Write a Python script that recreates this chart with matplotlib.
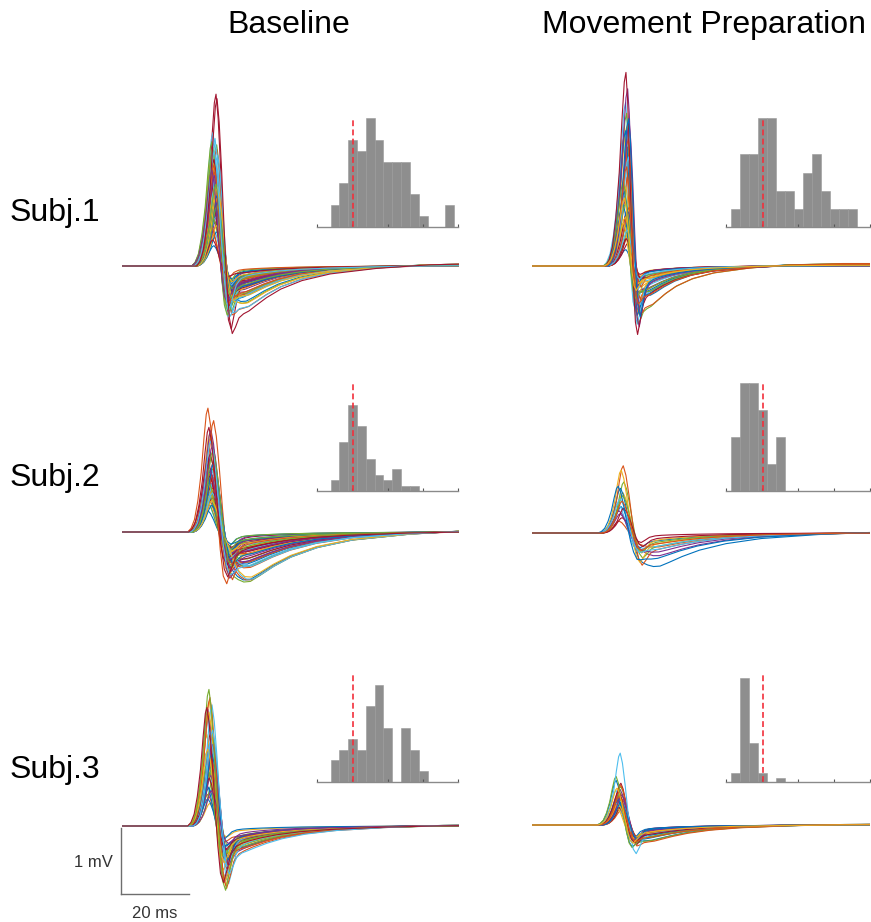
import numpy as np
import matplotlib.pyplot as plt

plt.rcParams['font.family'] = ['Liberation Sans', 'DejaVu Sans']

# peak-to-peak MEP amplitudes (mV), one value per trial
base_s1 = [1.45, 0.70, 2.20, 1.05, 1.65, 2.50, 3.80, 1.23, 0.94, 1.90, 1.50, 2.68, 0.81, 1.72, 2.32, 1.15,
           1.00, 2.04, 1.58, 2.95, 1.30, 0.45, 1.84, 2.40, 1.12, 1.40, 2.15, 0.97, 1.53, 2.58, 1.68, 1.19,
           2.75, 1.09, 1.95, 0.76, 1.60, 2.28, 1.37, 1.03, 2.45, 1.78, 1.26, 2.08, 0.90, 1.48, 2.62, 1.87,
           2.36, 1.42, 0.86, 1.63, 2.00, 1.33, 2.82, 0.58, 1.55, 2.24, 1.75, 2.12, 1.81, 2.54, 3.70]
prep_s1 = [0.95, 2.42, 0.55, 1.20, 0.72, 2.26, 1.04, 0.30, 1.70, 2.55, 1.29, 0.85, 3.00, 0.62, 1.12, 2.18,
           1.45, 0.99, 2.80, 1.33, 0.42, 2.48, 1.08, 0.79, 3.25, 1.16, 2.00, 0.50, 1.37, 2.33, 0.90, 2.61,
           1.56, 0.66, 3.55, 2.70, 1.82, 1.25]
base_s2 = [1.00, 0.74, 1.20, 0.93, 1.45, 0.65, 1.09, 1.30, 0.97, 2.16, 1.16, 0.82, 1.02, 1.58, 0.48, 1.24,
           1.06, 0.89, 1.68, 1.13, 0.77, 1.35, 2.50, 0.99, 1.18, 0.91, 1.50, 1.04, 0.85, 1.28, 2.22, 1.10,
           0.68, 1.38, 1.75, 0.95, 1.22, 1.07, 1.95, 0.80, 1.14, 1.62, 0.60, 1.32, 0.96, 2.29, 1.12, 0.88,
           1.26, 1.54, 2.78, 0.71, 1.40, 1.83, 2.05, 2.35]
prep_s2 = [0.62, 0.28, 0.95, 0.45, 1.20, 0.70, 0.36, 1.05, 1.58, 1.48, 0.52, 0.88, 0.80, 0.58, 1.10, 0.75]
base_s3 = [1.52, 0.70, 1.74, 2.46, 0.99, 1.65, 2.08, 1.40, 1.83, 0.50, 2.58, 1.26, 1.68, 1.96, 0.92, 1.56,
           2.76, 1.77, 1.18, 2.40, 1.48, 0.85, 1.86, 2.02, 1.12, 1.62, 2.68, 1.71, 0.60, 1.44, 2.52, 1.80,
           1.34, 1.90, 1.06, 1.59, 2.84, 1.70, 0.78, 3.02, 2.12, 2.62]
prep_s3 = [0.52, 0.44, 0.65, 0.58, 0.39, 0.71, 0.48, 0.55, 0.30, 0.61, 0.46, 0.79, 0.53, 0.42, 0.92, 0.57,
           0.67, 0.50, 0.63, 0.45, 0.86, 0.51, 0.54, 0.40, 0.73, 0.60, 0.49, 0.36, 0.56, 0.82, 0.43, 0.62,
           1.00, 1.48, 0.69, 0.47, 0.59, 0.76]

# MEP waveform: time from peak (ms), spike lobe, trough lobe, slow tail
t_rel   = [-40, -6.0, -5.0, -4.0, -3.0, -2.0, -1.2, -0.5, 0.0, 0.6, 1.3, 2.0, 2.8, 3.5,
           4.3, 5.2, 6.2, 7.5, 9.0, 11.0, 14.0, 18.0, 24.0, 32.0, 45.0, 60.0, 80.0, 100.0]
spike   = [0, 0, 0.03, 0.10, 0.25, 0.48, 0.75, 0.95, 1.0, 0.86, 0.58, 0.28, 0.07, 0,
           0, 0, 0, 0, 0, 0, 0, 0, 0, 0, 0, 0, 0, 0]
trough  = [0, 0, 0, 0, 0, 0, 0, 0, 0, 0, -0.03, -0.15, -0.5, -0.85,
           -1.0, -0.75, -0.45, -0.30, -0.24, -0.20, -0.16, -0.12, -0.08, -0.05, -0.02, 0, 0.01, 0.01]
tail    = [0, 0, 0, 0, 0, 0, 0, 0, 0, 0, 0, 0, 0, 0,
           -0.2, -0.5, -0.8, -0.97, -1.0, -0.9, -0.72, -0.52, -0.32, -0.16, -0.04, 0.04, 0.07, 0.07]

# trial-to-trial latency jitter (ms) and tail depth (mV)
latency_jitter = [0.0, -0.6, 0.5, -0.3, 0.8, -0.9, 0.3, -0.2, 0.6]
tail_depth     = [0.05, 0.15, 0.02, 0.25, 0.08, 0.12, 0.0, 0.35, 0.1, 0.04, 0.2]

threshold_mv = 1.02
bin_edges = 0.135 + 0.25 * np.arange(16)
hist_ymax = [[10, 6], [20, 4], [10, 25]]

col_titles = ['Baseline', 'Movement Preparation']
row_labels = ['Subj.1', 'Subj.2', 'Subj.3']
amps = [[base_s1, prep_s1], [base_s2, prep_s2], [base_s3, prep_s3]]

# per panel: peak latency, peak gain, trough gain, trough offset, rise stretch, fall stretch, tail gain
shape = [[(27.6, 0.68, 0.25, 0.0, 1.0, 1.05, 1.3), (28.0, 0.82, 0.28, 0.0, 1.0, 0.8, 1.2)],
         [(26.4, 0.67, 0.28, 0.0, 1.0, 1.3, 1.8), (26.4, 0.64, 0.26, 0.05, 1.0, 1.3, 1.2)],
         [(26.1, 0.68, 0.32, 0.0, 0.95, 1.15, 0.6), (25.8, 0.73, 0.22, 0.10, 0.95, 1.1, 0.5)]]

matlab_colors = ['#0072BD', '#D95319', '#EDB120', '#7E2F8E', '#77AC30', '#4DBEEE', '#A2142F']

W, H = 871, 922
PX_MV = 66.5
fig = plt.figure(figsize=(W / 100, H / 100), dpi=100)


def px_axes(x0, x1, y0, y1):
    return fig.add_axes([x0 / W, 1 - y1 / H, (x1 - x0) / W, (y1 - y0) / H])


trace_x = [(122, 459), (532, 870)]
hist_x = [(317, 458), (726, 870)]
baselines = [(266, 266), (532, 533), (826, 825)]
hist_y = [(118, 227), (383, 491), (674, 782)]

T = np.array(t_rel)
S, N, L = np.array(spike), np.array(trough), np.array(tail)

for r in range(3):
    for c in range(2):
        lat, pg, tg, t0, w_pre, w_post, tg_tail = shape[r][c]
        base = baselines[r][c]
        ylo, yhi = -1.6, 3.3
        ax = px_axes(trace_x[c][0], trace_x[c][1], base - yhi * PX_MV, base - ylo * PX_MV)
        t_scaled = np.where(T < 0, T * w_pre, T * w_post)
        for i, a in enumerate(amps[r][c]):
            t = lat + latency_jitter[i % len(latency_jitter)] + t_scaled
            v = pg * a * S + (tg * a + t0) * N + tg_tail * tail_depth[i % len(tail_depth)] * L
            ax.plot(t, v, color=matlab_colors[i % 7], lw=0.8)
        ax.set_xlim(0, 100)
        ax.set_ylim(ylo, yhi)
        ax.axis('off')

        if r == 2 and c == 0:
            bar_kw = dict(color='#6e6e6e', lw=1.0, clip_on=False)
            ax.plot([-0.3, -0.3], [-0.03, -1.03], **bar_kw)
            ax.plot([-0.3, 19.8], [-1.03, -1.03], **bar_kw)
            ax.text(-2.7, -0.55, '1 mV', ha='right', va='center', fontsize=12, color='#333333')
            ax.text(9.8, -1.31, '20 ms', ha='center', va='center', fontsize=12, color='#333333')

        hx = px_axes(hist_x[c][0], hist_x[c][1], hist_y[r][0], hist_y[r][1])
        hx.hist(amps[r][c], bins=bin_edges, color='#8e8e8e', edgecolor='#999999', linewidth=0.4)
        hx.axvline(threshold_mv, color='#f2303c', lw=1.2, linestyle=(0, (3.5, 2)))
        hx.set_xlim(0, 4)
        hx.set_ylim(0, hist_ymax[r][c])
        for side in ['top', 'right', 'left']:
            hx.spines[side].set_visible(False)
        hx.spines['bottom'].set_color('#8a8a8a')
        hx.spines['bottom'].set_linewidth(1.0)
        hx.set_xticks([0, 1, 2, 3, 4])
        hx.set_xticklabels([])
        hx.set_yticks([])
        hx.tick_params(axis='x', direction='in', length=2.5, color='#555555', width=0.8)
        hx.patch.set_alpha(0)

for c, title in enumerate(col_titles):
    fig.text([289, 704][c] / W, 1 - 25 / H, title, ha='center', va='center', fontsize=23)

for r, lab in enumerate(row_labels):
    fig.text(10 / W, 1 - [213, 478, 770][r] / H, lab, ha='left', va='center', fontsize=23)

fig.savefig('out.png', dpi=100)
